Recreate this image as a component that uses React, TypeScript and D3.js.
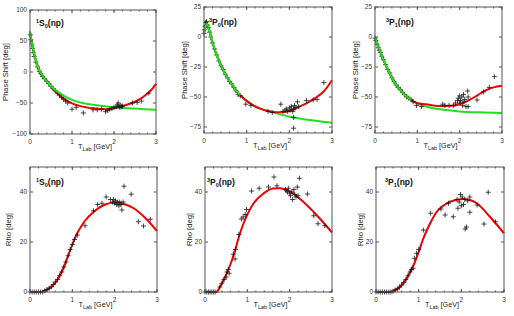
import React from "react";
import * as d3 from "d3";

type Pt = [number, number];

const xTicks = [0, 1, 2, 3];
const phaseTicksS0 = [-100, -50, 0, 50, 100];
const phaseTicksP = [-75, -50, -25, 0, 25];
const rhoTicks = [0, 20, 40];

// 1S0 phase shift
const s0PhaseGreen: Pt[] = [[0, 65], [0.04, 48], [0.08, 35], [0.12, 23], [0.16, 14], [0.22, 3], [0.3, -6], [0.4, -15], [0.6, -29], [0.8, -38], [1.0, -45], [1.25, -50], [1.5, -53], [2.0, -57], [2.5, -59], [3.0, -61]];
const s0PhaseRed: Pt[] = [[0, 65], [0.04, 48], [0.08, 35], [0.12, 23], [0.16, 14], [0.22, 3], [0.3, -6], [0.4, -15], [0.5, -23], [0.6, -31], [0.7, -37], [0.8, -43], [0.9, -47], [1.0, -50.5], [1.2, -55], [1.5, -58.5], [1.8, -60], [2.0, -58.5], [2.2, -55], [2.5, -48], [2.7, -40], [2.9, -28], [3.0, -19]];
const s0PhaseData: Pt[] = [[0.01, 60], [0.02, 52], [0.04, 45], [0.06, 38], [0.08, 31], [0.1, 25], [0.14, 16], [0.18, 8], [0.22, 1], [0.26, -3], [0.3, -7], [0.35, -11], [0.4, -15], [0.45, -19], [0.5, -23], [0.55, -27], [0.6, -30], [0.65, -34], [0.7, -37], [0.75, -41], [0.8, -44], [0.85, -47], [0.9, -50], [1.0, -60], [1.1, -57], [1.27, -66], [1.5, -61], [1.6, -61], [1.7, -60], [1.8, -64], [1.85, -62], [1.9, -60], [1.95, -59], [2.0, -57], [2.05, -56], [2.08, -53], [2.1, -50], [2.12, -55], [2.14, -57], [2.16, -54], [2.18, -56], [2.2, -55], [2.44, -50], [2.55, -49], [2.65, -47], [2.83, -34]];

// 3P0 phase shift
const p0PhaseGreen: Pt[] = [[0, 3], [0.03, 8], [0.07, 11], [0.12, 6], [0.2, -5], [0.375, -22], [0.5, -31], [0.69, -41.5], [0.85, -48.5], [1.08, -55.3], [1.3, -59.5], [1.55, -62.2], [2.01, -66.4], [2.48, -69.2], [3.0, -71.4]];
const p0PhaseRed: Pt[] = [[0, 3], [0.03, 8], [0.07, 11], [0.12, 6], [0.2, -5], [0.375, -22], [0.5, -31], [0.69, -41.5], [0.85, -48.5], [1.08, -55.3], [1.3, -59.5], [1.55, -62], [1.8, -62.8], [2.0, -61.7], [2.2, -58.6], [2.4, -55.3], [2.6, -51], [2.8, -45.6], [3.0, -36]];
const p0PhaseData: Pt[] = [[0.0, 3], [0.01, 6], [0.02, 9], [0.04, 12], [0.06, 13], [0.08, 10], [0.1, 8], [0.13, 4], [0.16, 0], [0.2, -5], [0.25, -10], [0.3, -15], [0.35, -20], [0.4, -24], [0.45, -27], [0.5, -31], [0.55, -34], [0.6, -37], [0.65, -39], [0.7, -42], [0.75, -45], [0.8, -48], [0.85, -49], [0.98, -56], [1.1, -57], [1.5, -62], [1.6, -63], [1.8, -56], [1.85, -62], [1.9, -61], [1.93, -60], [1.96, -62], [2.0, -59], [2.02, -61], [2.05, -58], [2.08, -62], [2.1, -60], [2.1, -67], [2.1, -76], [2.12, -57], [2.15, -59], [2.19, -54], [2.22, -58], [2.4, -53], [2.56, -52.5], [2.65, -52], [2.81, -38]];

// 3P1 phase shift
const p1PhaseGreen: Pt[] = [[0, 0], [0.1, -10], [0.2, -19], [0.3, -27], [0.43, -36], [0.57, -43], [0.71, -48.3], [0.85, -52.5], [0.99, -55.3], [1.25, -58.3], [1.54, -60.3], [2.0, -62], [2.48, -62.8], [3.0, -63.3]];
const p1PhaseRed: Pt[] = [[0, 0], [0.1, -10], [0.2, -19], [0.3, -27], [0.43, -36], [0.57, -43], [0.71, -48.3], [0.85, -52.5], [0.99, -55], [1.2, -56], [1.5, -57.5], [1.8, -57.3], [2.0, -56], [2.2, -53], [2.4, -49], [2.6, -44.7], [2.8, -42], [3.0, -40.6]];
const p1PhaseData: Pt[] = [[0, -1], [0.02, -3], [0.05, -6], [0.08, -9], [0.1, -11], [0.13, -13], [0.16, -16], [0.2, -19], [0.25, -23], [0.3, -27], [0.35, -30], [0.4, -34], [0.45, -37], [0.5, -40], [0.55, -42], [0.6, -44], [0.65, -46], [0.7, -48], [0.75, -50], [0.8, -51], [0.85, -52], [0.9, -54], [0.98, -57], [1.1, -58], [1.6, -56], [1.65, -57], [1.75, -57], [1.85, -57], [1.9, -55], [1.95, -53], [1.97, -51], [2.0, -49], [2.0, -55], [2.02, -53], [2.05, -50], [2.07, -57], [2.09, -48], [2.1, -54], [2.12, -52], [2.15, -58], [2.19, -45], [2.2, -50], [2.2, -58], [2.41, -52.5], [2.56, -45.8], [2.7, -42], [2.82, -33]];

// 1S0 rho
const s0RhoRed: Pt[] = [[0, 0], [0.25, 0], [0.35, 0.5], [0.5, 2], [0.6, 3.8], [0.7, 6.5], [0.8, 10], [0.9, 14.5], [1.0, 19], [1.1, 23], [1.2, 26], [1.3, 28.5], [1.5, 32], [1.75, 34.8], [2.0, 35.8], [2.2, 35.3], [2.45, 33.5], [2.7, 30], [3.0, 24.4]];
const s0RhoData: Pt[] = [[0, 0], [0.05, 0], [0.1, 0], [0.15, 0], [0.2, 0], [0.25, 0], [0.3, 0], [0.35, 0.5], [0.4, 1], [0.45, 1.5], [0.5, 2], [0.55, 3], [0.6, 4], [0.65, 5], [0.7, 6.5], [0.75, 8], [0.8, 10], [0.85, 12], [0.9, 14.5], [0.95, 17], [1.0, 19], [1.05, 21], [1.12, 22.8], [1.3, 26.5], [1.5, 32.5], [1.6, 35], [1.7, 35.5], [1.8, 38], [1.9, 37], [1.95, 36], [1.97, 37], [2.0, 35.5], [2.02, 36.5], [2.05, 35], [2.07, 36], [2.1, 34.5], [2.12, 36], [2.15, 35], [2.17, 32.8], [2.2, 36], [2.22, 42.3], [2.39, 39.1], [2.56, 28.1], [2.68, 26.4], [2.84, 29.1]];

// 3P0 rho
const p0RhoRed: Pt[] = [[0, 0], [0.27, 0], [0.3, 0.5], [0.4, 3.5], [0.5, 7], [0.6, 11], [0.7, 16], [0.8, 22], [0.9, 27], [1.0, 31], [1.15, 35.5], [1.38, 39.4], [1.6, 41.4], [1.77, 41.5], [2.0, 40.3], [2.32, 36.1], [2.64, 30.7], [3.0, 23.8]];
const p0RhoData: Pt[] = [[0, 0], [0.04, 0], [0.08, 0], [0.12, 0], [0.16, 0], [0.2, 0], [0.24, 0], [0.35, 2], [0.4, 3.5], [0.45, 5], [0.5, 6], [0.52, 8], [0.55, 9], [0.57, 7.5], [0.67, 15.1], [0.71, 13.2], [0.72, 17], [0.8, 23], [0.86, 29.2], [0.9, 30], [0.95, 31], [0.98, 33], [1.1, 40.4], [1.28, 41.5], [1.5, 42], [1.63, 46], [1.7, 42.5], [1.9, 41], [1.92, 40.5], [1.95, 40], [1.97, 41.5], [2.0, 39.5], [2.02, 38.5], [2.05, 40], [2.07, 37], [2.1, 41], [2.12, 39], [2.15, 38], [2.18, 42], [2.2, 38.5], [2.23, 45.5], [2.42, 39.2], [2.57, 30.5], [2.67, 27.3], [2.83, 26.5]];

// 3P1 rho
const p1RhoRed: Pt[] = [[0, 0], [0.33, 0], [0.45, 0.8], [0.56, 2], [0.72, 5.4], [0.8, 8], [0.9, 11.5], [1.0, 16], [1.1, 21], [1.2, 25], [1.3, 28.5], [1.42, 32], [1.6, 34.8], [1.73, 36.1], [2.04, 37.2], [2.2, 36.8], [2.36, 35.5], [2.67, 30.1], [3.0, 23.5]];
const p1RhoData: Pt[] = [[0, 0], [0.05, 0], [0.1, 0], [0.15, 0], [0.2, 0], [0.25, 0], [0.3, 0], [0.35, 0], [0.4, 0.3], [0.45, 0.8], [0.5, 1.2], [0.55, 2], [0.6, 2.8], [0.65, 3.8], [0.7, 5], [0.75, 6.5], [0.8, 8], [0.83, 9], [0.87, 9.5], [0.9, 13.5], [0.95, 15.5], [1.0, 17], [1.11, 24.8], [1.28, 31.5], [1.52, 33.2], [1.62, 30.8], [1.7, 35.5], [1.81, 30.1], [1.9, 37], [1.92, 33.5], [1.95, 36], [1.98, 39], [2.0, 34.5], [2.02, 38], [2.05, 35], [2.08, 37], [2.09, 25.2], [2.12, 26], [2.15, 36.5], [2.2, 38], [2.2, 31.9], [2.37, 34.8], [2.53, 27.2], [2.63, 39.9], [2.8, 28.1]];

const FONT = "'Liberation Sans', Arial, Helvetica, sans-serif";

interface PanelProps {
  l: number; r: number; t: number; b: number;
  yDomain: [number, number];
  yTicks: number[];
  wave: [string, string, string];
  yLabel: string;
  yLabelGap: number;
  titleDx: number;
  titleDy: number;
  red: Pt[];
  green?: Pt[];
  pts: Pt[];
}

function Panel(p: PanelProps) {
  const { l, r, t, b } = p;
  const x = d3.scaleLinear().domain([0, 3]).range([l, r]);
  const y = d3.scaleLinear().domain(p.yDomain).range([b, t]);
  const line = d3.line<Pt>().x((d) => x(d[0])).y((d) => y(d[1])).curve(d3.curveMonotoneX);
  const minor = x.ticks(15);
  const fmt = (v: number) => (v < 0 ? "\u2212" + Math.abs(v) : String(v));
  const cx = (l + r) / 2 + 2;
  const cy = (t + b) / 2;
  return (
    <g>
      <rect x={l} y={t} width={r - l} height={b - t} fill="#fff" />
      {p.green && <path d={line(p.green) || ""} fill="none" stroke="#1ee01e" strokeWidth={2} />}
      <path d={line(p.red) || ""} fill="none" stroke="#f00000" strokeWidth={2} />
      <g stroke="#1a1a1a" strokeWidth={0.8} fill="none">
        {p.pts.map((d, i) => {
          const px = x(d[0]);
          const py = y(d[1]);
          return <path key={i} d={`M${px - 2.5},${py}h5M${px},${py - 2.5}v5`} />;
        })}
      </g>
      {p.green && (
        <path d={line(p.green.filter((d) => d[0] < 0.9)) || ""} fill="none" stroke="#1ee01e" strokeWidth={2} />
      )}
      <g stroke="#555" strokeWidth={1} fill="none">
        <rect x={l} y={t} width={r - l} height={b - t} />
        {minor.map((v) => (
          <path key={"m" + v} d={`M${x(v)},${b}v-1.5M${x(v)},${t}v1.5`} />
        ))}
        {xTicks.map((v) => (
          <path key={"x" + v} d={`M${x(v)},${b}v-3M${x(v)},${t}v3`} />
        ))}
        {p.yTicks.map((v) => (
          <path key={"y" + v} d={`M${l},${y(v)}h3M${r},${y(v)}h-3`} />
        ))}
      </g>
      <g fontFamily={FONT} fontSize={6.5} fill="#333">
        {xTicks.map((v) => (
          <text key={v} x={x(v)} y={b + 10} textAnchor="middle">{v}</text>
        ))}
        {p.yTicks.map((v) => (
          <text key={v} x={l - 3} y={y(v)} dy="0.35em" textAnchor="end">{fmt(v)}</text>
        ))}
      </g>
      <text x={cx} y={b + 14.5} fontFamily={FONT} fontSize={7.2} fill="#222" textAnchor="middle">
        T<tspan fontSize={5.5} dy={2.5}>Lab</tspan><tspan dy={-2.5}> [GeV]</tspan>
      </text>
      <text
        transform={`translate(${l - p.yLabelGap},${cy}) rotate(-90)`}
        fontFamily={FONT}
        fontSize={7.6}
        fill="#222"
        textAnchor="middle"
      >
        {p.yLabel}
      </text>
      <text x={l + p.titleDx} y={t + p.titleDy} fontFamily={FONT} fontSize={8.5} fontWeight="bold" fill="#111">
        <tspan fontSize={5.5} dy={-3.5}>{p.wave[0]}</tspan>
        <tspan dy={3.5}>{p.wave[1]}</tspan>
        <tspan fontSize={5.5} dy={2}>{p.wave[2]}</tspan>
        <tspan dy={-2}>(np)</tspan>
      </text>
    </g>
  );
}

export default function App() {
  return (
    <svg
      width={514}
      height={316}
      style={{ position: "absolute", left: 0, top: 0, background: "#fff" }}
    >
      <rect width={514} height={316} fill="#fff" />
      <Panel l={30} r={156} t={10} b={134} yDomain={[-100, 100]} yTicks={phaseTicksS0} wave={["1", "S", "0"]}
        yLabel="Phase Shift [deg]" yLabelGap={22} titleDx={6} titleDy={16} red={s0PhaseRed} green={s0PhaseGreen} pts={s0PhaseData} />
      <Panel l={204} r={332} t={7} b={133} yDomain={[-80, 25]} yTicks={phaseTicksP} wave={["3", "P", "0"]}
        yLabel="Phase Shift [deg]" yLabelGap={17} titleDx={5} titleDy={18} red={p0PhaseRed} green={p0PhaseGreen} pts={p0PhaseData} />
      <Panel l={375} r={502} t={7} b={133} yDomain={[-80, 25]} yTicks={phaseTicksP} wave={["3", "P", "1"]}
        yLabel="Phase Shift [deg]" yLabelGap={17} titleDx={11} titleDy={18} red={p1PhaseRed} green={p1PhaseGreen} pts={p1PhaseData} />
      <Panel l={30} r={157} t={167} b={292} yDomain={[0, 50]} yTicks={rhoTicks} wave={["1", "S", "0"]}
        yLabel="Rho [deg]" yLabelGap={19} titleDx={6} titleDy={18} red={s0RhoRed} pts={s0RhoData} />
      <Panel l={205} r={332} t={167} b={292} yDomain={[0, 50]} yTicks={rhoTicks} wave={["3", "P", "0"]}
        yLabel="Rho [deg]" yLabelGap={13.5} titleDx={2} titleDy={18} red={p0RhoRed} pts={p0RhoData} />
      <Panel l={376} r={504} t={167} b={292} yDomain={[0, 50]} yTicks={rhoTicks} wave={["3", "P", "1"]}
        yLabel="Rho [deg]" yLabelGap={13.5} titleDx={9} titleDy={18} red={p1RhoRed} pts={p1RhoData} />
    </svg>
  );
}
